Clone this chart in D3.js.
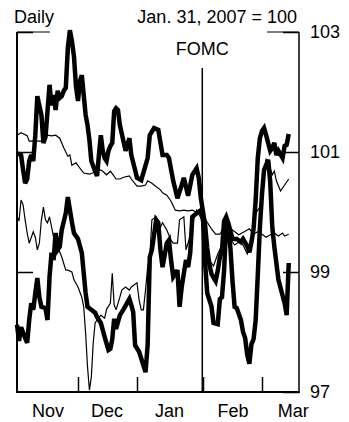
<!DOCTYPE html>
<html>
<head>
<meta charset="utf-8">
<script src="https://cdn.jsdelivr.net/npm/d3@7"></script>
<style>
  body { margin: 0; background: #fff; }
  svg { display: block; }
  text { font-family: "Liberation Sans", Arial, Helvetica, sans-serif; fill: #000; }
</style>
</head>
<body>
<svg id="chart" width="349" height="422"></svg>
<script>
// Daily index levels, Jan. 31, 2007 = 100

// Heavy line that peaks in late November and ends near 101
const seriesA = [
  ["2006-11-01",100.98],["2006-11-03",100.95],["2006-11-04",100.70],["2006-11-05",100.48],
  ["2006-11-06",100.55],["2006-11-07",100.85],["2006-11-08",100.95],["2006-11-09",100.85],
  ["2006-11-10",101.28],["2006-11-11",101.93],["2006-11-13",101.62],["2006-11-14",101.15],
  ["2006-11-15",101.25],["2006-11-16",101.68],["2006-11-17",102.12],["2006-11-18",101.78],
  ["2006-11-19",101.95],["2006-11-20",101.70],["2006-11-21",102.02],["2006-11-22",101.90],
  ["2006-11-23",101.93],["2006-11-24",102.02],["2006-11-25",102.07],["2006-11-26",102.73],
  ["2006-11-27",103.03],["2006-11-28",102.85],["2006-11-29",102.60],["2006-11-30",102.10],
  ["2006-12-01",101.85],["2006-12-02",102.18],["2006-12-03",102.28],["2006-12-04",101.95],
  ["2006-12-05",101.62],["2006-12-06",101.45],["2006-12-07",101.20],["2006-12-08",100.85],
  ["2006-12-10",100.68],["2006-12-11",100.60],["2006-12-12",100.95],["2006-12-13",101.28],
  ["2006-12-14",101.02],["2006-12-15",100.90],["2006-12-16",100.85],["2006-12-17",101.02],
  ["2006-12-18",101.10],["2006-12-19",101.15],["2006-12-20",101.68],["2006-12-21",101.73],
  ["2006-12-22",101.70],["2006-12-23",101.45],["2006-12-26",101.02],["2006-12-28",101.23],
  ["2006-12-29",100.95],["2006-12-31",100.70],["2007-01-01",100.57],["2007-01-03",100.53],
  ["2007-01-06",100.90],["2007-01-07",101.28],["2007-01-09",101.40],["2007-01-11",101.37],
  ["2007-01-13",100.95],["2007-01-15",100.95],["2007-01-16",100.90],["2007-01-18",100.52],
  ["2007-01-20",100.23],["2007-01-22",100.45],["2007-01-23",100.57],["2007-01-25",100.27],
  ["2007-01-27",100.62],["2007-01-29",100.73],["2007-01-30",100.57],["2007-01-31",100.23],
  ["2007-02-02",99.78],["2007-02-03",99.40],["2007-02-04",99.13],["2007-02-05",98.97],
  ["2007-02-07",98.85],["2007-02-08",99.02],["2007-02-09",99.25],["2007-02-10",99.35],
  ["2007-02-11",99.85],["2007-02-12",99.92],["2007-02-13",99.82],["2007-02-15",99.55],
  ["2007-02-17",99.55],["2007-02-19",99.50],["2007-02-20",99.55],["2007-02-22",99.43],
  ["2007-02-23",99.33],["2007-02-24",99.50],["2007-02-25",99.72],["2007-02-26",100.20],
  ["2007-02-27",100.90],["2007-02-28",101.23],["2007-03-01",101.35],["2007-03-02",101.40],
  ["2007-03-03",101.28],["2007-03-04",101.15],["2007-03-05",101.02],["2007-03-06",101.07],
  ["2007-03-07",101.15],["2007-03-08",100.95],["2007-03-09",101.02],["2007-03-11",100.90],
  ["2007-03-12",101.10],["2007-03-13",101.12],["2007-03-14",101.30]
];

// Heavy line that starts near 98 and swings widely
const seriesB = [
  ["2006-11-01",98.12],["2006-11-02",97.85],["2006-11-03",98.08],["2006-11-05",97.90],
  ["2006-11-06",97.82],["2006-11-07",98.20],["2006-11-08",98.48],["2006-11-09",98.37],
  ["2006-11-10",98.65],["2006-11-11",98.90],["2006-11-12",98.58],["2006-11-13",98.42],
  ["2006-11-15",98.40],["2006-11-16",98.20],["2006-11-17",98.92],["2006-11-18",99.32],
  ["2006-11-19",99.20],["2006-11-20",99.65],["2006-11-21",99.37],["2006-11-22",99.42],
  ["2006-11-23",99.70],["2006-11-25",99.98],["2006-11-26",100.25],["2006-11-28",99.83],
  ["2006-11-29",99.65],["2006-12-01",99.55],["2006-12-03",99.32],["2006-12-05",98.65],
  ["2006-12-06",98.42],["2006-12-08",98.37],["2006-12-10",98.32],["2006-12-11",98.25],
  ["2006-12-13",98.15],["2006-12-15",97.92],["2006-12-17",97.70],["2006-12-18",97.72],
  ["2006-12-19",97.88],["2006-12-20",98.22],["2006-12-21",98.05],["2006-12-23",98.28],
  ["2006-12-25",98.38],["2006-12-28",98.55],["2006-12-29",98.45],["2006-12-30",98.33],
  ["2006-12-31",97.78],["2007-01-02",97.67],["2007-01-05",97.33],["2007-01-06",97.78],
  ["2007-01-07",99.25],["2007-01-08",99.37],["2007-01-10",99.87],["2007-01-11",99.82],
  ["2007-01-12",99.37],["2007-01-13",99.08],["2007-01-15",99.48],["2007-01-16",99.53],
  ["2007-01-17",99.20],["2007-01-18",98.92],["2007-01-20",99.03],["2007-01-21",98.42],
  ["2007-01-22",98.75],["2007-01-24",99.20],["2007-01-25",99.08],["2007-01-26",99.32],
  ["2007-01-27",99.92],["2007-01-29",99.98],["2007-01-31",100.03],["2007-02-01",99.90],
  ["2007-02-02",99.15],["2007-02-03",98.65],["2007-02-05",98.43],["2007-02-06",98.15],
  ["2007-02-08",98.13],["2007-02-09",98.55],["2007-02-10",98.58],["2007-02-11",99.02],
  ["2007-02-12",99.82],["2007-02-13",99.78],["2007-02-14",99.40],["2007-02-15",98.85],
  ["2007-02-16",98.42],["2007-02-17",98.40],["2007-02-19",98.20],["2007-02-20",98.00],
  ["2007-02-21",97.90],["2007-02-22",97.62],["2007-02-23",97.47],["2007-02-24",97.80],
  ["2007-02-25",97.88],["2007-02-26",98.20],["2007-02-27",98.95],["2007-02-28",99.75],
  ["2007-03-01",100.30],["2007-03-02",100.70],["2007-03-04",100.87],["2007-03-05",100.50],
  ["2007-03-06",99.75],["2007-03-07",99.42],["2007-03-09",98.87],["2007-03-12",98.48],
  ["2007-03-13",98.28],["2007-03-14",99.15]
];

// Light line drifting down from 101.3 to 99.6
const seriesC = [
  ["2006-11-01",101.28],["2006-11-03",101.32],["2006-11-06",101.27],["2006-11-07",101.18],
  ["2006-11-10",101.18],["2006-11-13",101.18],["2006-11-16",101.28],["2006-11-18",101.27],
  ["2006-11-20",101.28],["2006-11-22",101.23],["2006-11-24",101.07],["2006-11-26",100.93],
  ["2006-11-27",100.95],["2006-11-28",100.78],["2006-11-30",100.82],["2006-12-02",100.73],
  ["2006-12-04",100.65],["2006-12-07",100.63],["2006-12-11",100.68],["2006-12-13",100.70],
  ["2006-12-14",100.68],["2006-12-16",100.62],["2006-12-18",100.68],["2006-12-19",100.64],
  ["2006-12-21",100.55],["2006-12-23",100.55],["2006-12-25",100.58],["2006-12-28",100.60],
  ["2006-12-29",100.55],["2007-01-01",100.43],["2007-01-03",100.43],["2007-01-05",100.45],
  ["2007-01-06",100.52],["2007-01-08",100.48],["2007-01-09",100.45],["2007-01-12",100.37],
  ["2007-01-13",100.32],["2007-01-15",100.28],["2007-01-17",100.18],["2007-01-19",100.03],
  ["2007-01-21",100.02],["2007-01-23",100.03],["2007-01-25",100.02],["2007-01-27",100.03],
  ["2007-01-30",99.98],["2007-02-01",99.95],["2007-02-03",99.83],["2007-02-05",99.72],
  ["2007-02-07",99.63],["2007-02-09",99.63],["2007-02-11",99.75],["2007-02-13",99.63],
  ["2007-02-15",99.70],["2007-02-18",99.62],["2007-02-21",99.68],["2007-02-23",99.72],
  ["2007-02-25",99.63],["2007-02-27",99.67],["2007-03-01",99.63],["2007-03-03",99.58],
  ["2007-03-05",99.62],["2007-03-07",99.65],["2007-03-09",99.60],["2007-03-11",99.65],
  ["2007-03-12",99.60],["2007-03-14",99.63]
];

// Light line with the early-December trough
const seriesD = [
  ["2006-11-01",99.93],["2006-11-02",99.85],["2006-11-03",100.20],["2006-11-04",100.12],
  ["2006-11-05",99.87],["2006-11-06",99.65],["2006-11-07",99.48],["2006-11-09",99.67],
  ["2006-11-10",99.58],["2006-11-11",99.37],["2006-11-12",99.48],["2006-11-13",99.87],
  ["2006-11-14",100.08],["2006-11-15",99.87],["2006-11-16",99.82],["2006-11-17",99.92],
  ["2006-11-18",99.75],["2006-11-19",99.58],["2006-11-21",99.42],["2006-11-23",99.25],
  ["2006-11-25",99.03],["2006-11-26",99.03],["2006-11-28",99.00],["2006-11-29",98.87],
  ["2006-12-01",98.75],["2006-12-03",98.58],["2006-12-04",98.42],["2006-12-05",97.98],
  ["2006-12-06",97.42],["2006-12-07",97.03],["2006-12-08",97.25],["2006-12-09",97.82],
  ["2006-12-10",98.15],["2006-12-11",98.20],["2006-12-13",98.28],["2006-12-15",98.23],
  ["2006-12-16",98.38],["2006-12-18",98.48],["2006-12-19",98.98],["2006-12-20",98.45],
  ["2006-12-21",98.37],["2006-12-23",98.58],["2006-12-24",98.70],["2006-12-26",98.75],
  ["2006-12-28",98.70],["2006-12-29",98.75],["2007-01-01",98.82],["2007-01-02",98.53],
  ["2007-01-03",98.37],["2007-01-04",98.37],["2007-01-05",98.70],["2007-01-06",99.08],
  ["2007-01-07",99.25],["2007-01-08",99.87],["2007-01-10",99.92],["2007-01-12",99.75],
  ["2007-01-13",99.82],["2007-01-15",99.70],["2007-01-17",99.53],["2007-01-18",99.48],
  ["2007-01-20",99.48],["2007-01-21",99.87],["2007-01-23",99.92],["2007-01-24",99.37],
  ["2007-01-26",99.60],["2007-01-27",99.83],["2007-01-28",99.93],["2007-01-29",100.03],
  ["2007-01-31",99.90],["2007-02-02",99.60],["2007-02-04",99.20],["2007-02-06",99.10],
  ["2007-02-08",99.30],["2007-02-10",99.45],["2007-02-12",99.80],["2007-02-14",99.55],
  ["2007-02-16",99.45],["2007-02-18",99.50],["2007-02-20",99.45],["2007-02-22",99.30],
  ["2007-02-24",99.50],["2007-02-26",99.98],["2007-02-28",100.08],["2007-03-01",100.25],
  ["2007-03-02",100.53],["2007-03-03",100.88],["2007-03-04",100.85],["2007-03-06",100.62],
  ["2007-03-07",100.68],["2007-03-08",100.52],["2007-03-10",100.35],["2007-03-12",100.45],
  ["2007-03-14",100.55]
];

const yTicks = [97, 99, 101, 103];
const monthStarts = ["2006-12-01", "2007-01-01", "2007-02-01", "2007-03-01"];
const monthLabels = ["2006-11-16", "2006-12-16", "2007-01-16", "2007-02-15", "2007-03-16"];
const fomcDate = "2007-01-31T16:00";

(function draw() {
  const parseDay = d3.timeParse("%Y-%m-%d");
  const parseTime = d3.timeParse("%Y-%m-%dT%H:%M");

  const svg = d3.select("#chart");
  const plotLeft = 17, plotRight = 299, plotTop = 32, plotBottom = 392;

  // Trading-day spacing differs by month, so the time axis is piecewise
  const x = d3.scaleTime()
    .domain([new Date(2006, 10, 1), new Date(2006, 11, 1), new Date(2007, 0, 1),
             new Date(2007, 1, 1), new Date(2007, 2, 1), new Date(2007, 2, 19)])
    .range([plotLeft, 78, 137, 203, 262, plotRight]);
  const y = d3.scaleLinear().domain([97, 103]).range([plotBottom, plotTop]);

  // Frame: full left, right and bottom edges; short top corners
  const frame = svg.append("g").attr("stroke", "#000").attr("fill", "none");
  frame.append("line").attr("x1", plotLeft).attr("x2", plotLeft)
    .attr("y1", plotTop).attr("y2", plotBottom + 1).attr("stroke-width", 2);
  frame.append("line").attr("x1", plotRight).attr("x2", plotRight)
    .attr("y1", plotTop).attr("y2", plotBottom + 1).attr("stroke-width", 1.5);
  frame.append("line").attr("x1", plotLeft - 1).attr("x2", plotRight + 0.75)
    .attr("y1", plotBottom).attr("y2", plotBottom).attr("stroke-width", 2);
  frame.append("line").attr("x1", plotLeft).attr("x2", 50)
    .attr("y1", plotTop).attr("y2", plotTop).attr("stroke-width", 1);
  frame.append("line").attr("x1", 267).attr("x2", plotRight)
    .attr("y1", plotTop).attr("y2", plotTop).attr("stroke-width", 1);

  // Right axis with labels
  const yRight = svg.append("g").attr("transform", `translate(${plotRight},0)`)
    .call(d3.axisRight(y).tickValues(yTicks).tickSize(-16).tickPadding(11).tickFormat(d3.format("d")));
  yRight.select(".domain").remove();
  yRight.selectAll(".tick line").attr("stroke", "#000").attr("stroke-width", 1.5);
  yRight.selectAll(".tick text").attr("font-size", 18).attr("font-family", null).attr("fill", "#000");

  // Left axis ticks only
  const yLeft = svg.append("g").attr("transform", `translate(${plotLeft},0)`)
    .call(d3.axisLeft(y).tickValues(yTicks.filter(v => v > 97)).tickSize(-16).tickFormat(""));
  yLeft.select(".domain").remove();
  yLeft.selectAll(".tick line").attr("stroke", "#000").attr("stroke-width", 1.5);

  // Month boundary ticks
  const xTicks = svg.append("g").attr("transform", `translate(0,${plotBottom})`)
    .call(d3.axisBottom(x).tickValues(monthStarts.map(parseDay)).tickSize(-15).tickFormat(""));
  xTicks.select(".domain").remove();
  xTicks.selectAll(".tick line").attr("stroke", "#000").attr("stroke-width", 1.5);

  // Month names centred under each month
  const xLabels = svg.append("g").attr("transform", `translate(0,${plotBottom})`)
    .call(d3.axisBottom(x).tickValues(monthLabels.map(parseDay)).tickSize(0).tickPadding(12)
      .tickFormat(d3.timeFormat("%b")));
  xLabels.select(".domain").remove();
  xLabels.selectAll(".tick text").attr("font-size", 18).attr("font-family", null).attr("fill", "#000");

  // FOMC marker
  const fx = x(parseTime(fomcDate));
  svg.append("line").attr("x1", fx).attr("x2", fx).attr("y1", 68).attr("y2", plotBottom)
    .attr("stroke", "#000").attr("stroke-width", 1.5);
  svg.append("text").attr("x", fx).attr("y", 55).attr("text-anchor", "middle")
    .attr("font-size", 18).text("FOMC");

  // Header
  svg.append("text").attr("x", 14).attr("y", 23).attr("font-size", 18).text("Daily");
  svg.append("text").attr("x", 297).attr("y", 23).attr("text-anchor", "end")
    .attr("font-size", 18).text("Jan. 31, 2007 = 100");

  // Series
  const line = d3.line().x(d => x(parseDay(d[0]))).y(d => y(d[1]));
  const lines = [
    { data: seriesC, width: 1.2 },
    { data: seriesD, width: 1.2 },
    { data: seriesA, width: 4.5 },
    { data: seriesB, width: 4.5 }
  ];
  svg.append("g").selectAll("path").data(lines).join("path")
    .attr("d", d => line(d.data))
    .attr("fill", "none")
    .attr("stroke", "#000")
    .attr("stroke-width", d => d.width)
    .attr("stroke-linejoin", "miter")
    .attr("stroke-miterlimit", 3);
})();
</script>
</body>
</html>
